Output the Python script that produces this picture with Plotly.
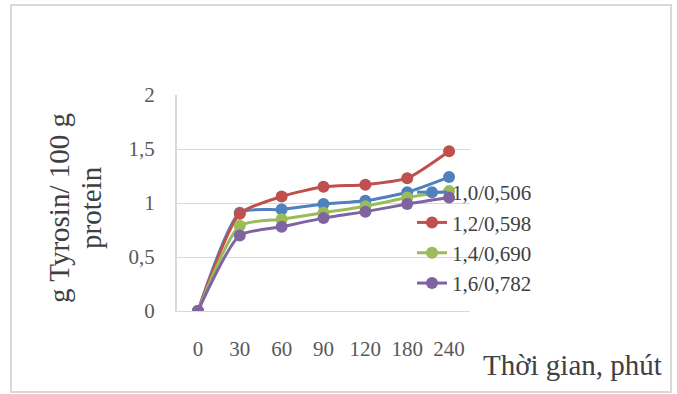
import plotly.graph_objects as go

# Hydrolysis time (minutes) and tyrosine released, g per 100 g protein
time_labels = ["0", "30", "60", "90", "120", "180", "240"]
series_names = ["1,0/0,506", "1,2/0,598", "1,4/0,690", "1,6/0,782"]
tyr_10 = [0, 0.91, 0.94, 0.99, 1.02, 1.10, 1.24]
tyr_12 = [0, 0.90, 1.06, 1.15, 1.17, 1.23, 1.48]
tyr_14 = [0, 0.79, 0.85, 0.91, 0.97, 1.05, 1.11]
tyr_16 = [0, 0.70, 0.78, 0.86, 0.92, 0.99, 1.05]
series_values = [tyr_10, tyr_12, tyr_14, tyr_16]
y_ticks = [0, 0.5, 1, 1.5, 2]

colors = ["#4F81BD", "#C0504D", "#9BBB59", "#8064A2"]
serif = "Liberation Serif"

W, H = 677, 394
L, R, T, B = 177, 470, 95, 311  # plot area in pixels


def px_x(p):
    return (p - L) / (R - L)


def px_y(p):
    return (B - p) / (B - T)


fig = go.Figure()
for i, (name, vals) in enumerate(zip(series_names, series_values)):
    fig.add_trace(go.Scatter(
        x=time_labels, y=vals, name=name,
        mode="lines+markers",
        line=dict(color=colors[i], width=3, shape="spline", smoothing=0.6),
        marker=dict(color=colors[i], size=12),
        legendgroup=name,
    ))

fig.update_layout(
    width=W, height=H,
    margin=dict(l=L, r=W - R, t=T, b=H - B),
    paper_bgcolor="white", plot_bgcolor="white",
    separators=", ",
    showlegend=True,
    legend=dict(
        x=px_x(412), y=px_y(172), xanchor="left", yanchor="top",
        font=dict(family=serif, size=21, color="#404040"),
        bgcolor="rgba(0,0,0,0)",
        traceorder="normal",
        itemwidth=30,
    ),
    xaxis=dict(
        type="category", range=[-0.5, 6.5],
        showgrid=False, showline=True, linecolor="#d9d9d9", linewidth=1,
        ticks="", ticklabelstandoff=19,
        tickfont=dict(family=serif, size=21, color="#595959"),
        fixedrange=True,
    ),
    yaxis=dict(
        range=[0, 2], tickvals=y_ticks,
        showgrid=True, gridcolor="#d9d9d9", gridwidth=1,
        zeroline=False,
        showline=True, linecolor="#d9d9d9", linewidth=2,
        ticks="", ticklabelstandoff=16,
        tickfont=dict(family=serif, size=21, color="#595959"),
        fixedrange=True,
    ),
    annotations=[
        dict(text="g Tyrosin/ 100 g", xref="paper", yref="paper",
             x=px_x(59), y=px_y(208), textangle=-90, showarrow=False,
             xanchor="center", yanchor="middle",
             font=dict(family=serif, size=29, color="#404040")),
        dict(text="protein", xref="paper", yref="paper",
             x=px_x(91), y=px_y(208), textangle=-90, showarrow=False,
             xanchor="center", yanchor="middle",
             font=dict(family=serif, size=29, color="#404040")),
        dict(text="Thời gian, phút", xref="paper", yref="paper",
             x=px_x(572), y=px_y(365), showarrow=False,
             xanchor="center", yanchor="middle",
             font=dict(family=serif, size=29, color="#404040")),
    ],
    shapes=[
        dict(type="rect", xref="paper", yref="paper",
             x0=px_x(11), x1=px_x(671), y0=px_y(392), y1=px_y(5),
             line=dict(color="#d9d9d9", width=2), layer="below"),
    ],
)

fig.write_html("out.html")
